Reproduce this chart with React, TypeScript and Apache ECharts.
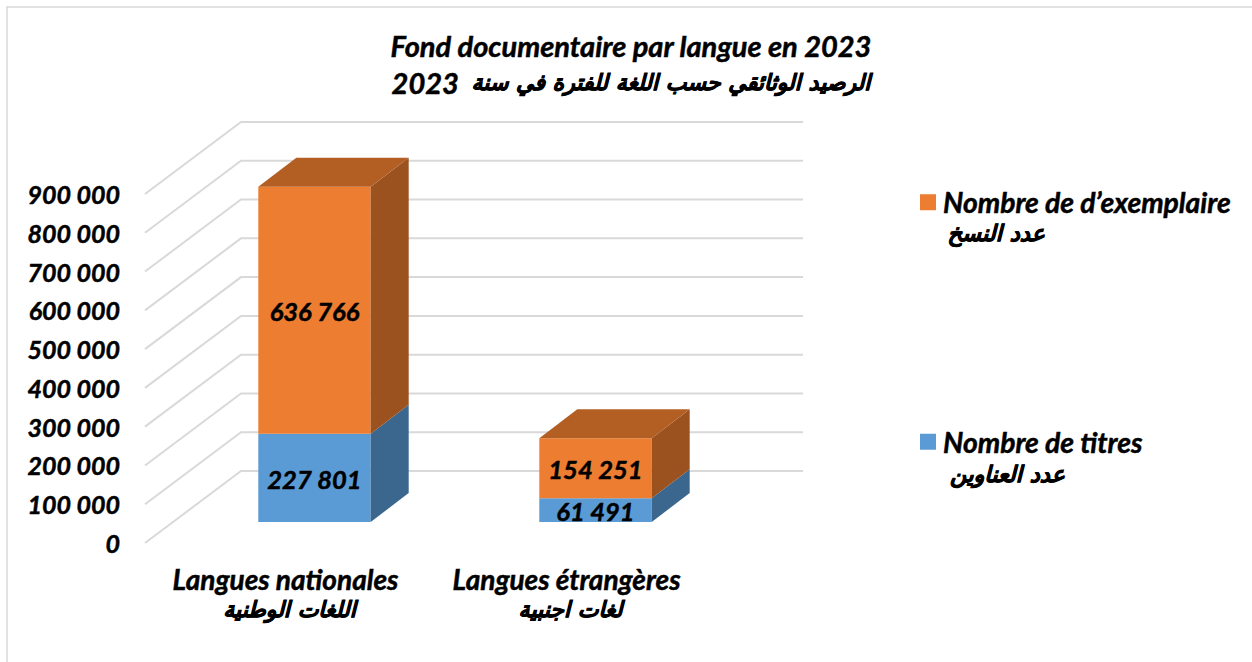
import React, { useEffect, useRef } from "react";
import * as echarts from "echarts";

const categories = ["Langues nationales", "Langues étrangères"];
const categoriesAr = ["اللغات الوطنية", "لغات اجنبية"];
const titres = [227801, 61491];
const exemplaires = [636766, 154251];
const tickValues = [0, 100000, 200000, 300000, 400000, 500000, 600000, 700000, 800000, 900000];
const titleFr = "Fond documentaire par langue en 2023";
const titleArText = "الرصيد الوثائقي حسب اللغة للفترة في سنة";
const titleYear = "2023";
const nameTitres = "Nombre de titres";
const nameExemplaires = "Nombre de d’exemplaire";
const nameTitresAr = "عدد العناوين";
const nameExemplairesAr = "عدد النسخ";

const LATIN = "Lato, 'Noto Sans', sans-serif";
const ARABIC = "'DejaVu Sans', sans-serif";
const WALL = { dx: 96, dy: -72, right: 803 };
const OFFSET = { dx: 29, dy: -21 };
const DEPTH = { dx: 38, dy: -29 };
const heavy = { textBorderColor: "#000", textBorderWidth: 0.5 };
const heavyAr = { textBorderColor: "#000", textBorderWidth: 0.7 };
const latinStyle = { fontFamily: LATIN, fontStyle: "italic", fontWeight: "bold", color: "#000" };
const arabicStyle = { fontFamily: ARABIC, fontStyle: "italic", fontWeight: "bold", color: "#000" };

const fmt = (v: number) => String(v).replace(/\B(?=(\d{3})+$)/g, " ");

function barSeries(name: string, starts: number[], values: number[], front: string, side: string, top: string | null) {
  return {
    type: "custom",
    name,
    itemStyle: { color: front },
    data: values.map((v, i) => [i, starts[i], starts[i] + v, v]),
    encode: { x: 0, y: [1, 2] },
    z: 5,
    renderItem: (_p: any, api: any) => {
      const i = api.value(0);
      const a = api.coord([i, api.value(1)]);
      const b = api.coord([i, api.value(2)]);
      const w = api.size([1, 0])[0] * 0.4;
      const x0 = a[0] - w / 2 + OFFSET.dx;
      const x1 = x0 + w;
      const y0 = a[1] + OFFSET.dy;
      const y1 = b[1] + OFFSET.dy;
      const children: any[] = [
        { type: "rect", shape: { x: x0, y: y1, width: w, height: y0 - y1 }, style: { fill: front } },
        {
          type: "polygon",
          shape: { points: [[x1, y0], [x1 + DEPTH.dx, y0 + DEPTH.dy], [x1 + DEPTH.dx, y1 + DEPTH.dy], [x1, y1]] },
          style: { fill: side },
        },
      ];
      if (top) {
        children.push({
          type: "polygon",
          shape: { points: [[x0, y1], [x0 + DEPTH.dx, y1 + DEPTH.dy], [x1 + DEPTH.dx, y1 + DEPTH.dy], [x1, y1]] },
          style: { fill: top },
        });
      }
      children.push({
        type: "text",
        style: {
          x: (x0 + x1) / 2,
          y: (y0 + y1) / 2 + 1,
          text: fmt(api.value(3)),
          align: "center",
          verticalAlign: "middle",
          font: `italic bold 25.5px ${LATIN}`,
          fill: "#000",
          stroke: "#000",
          lineWidth: 0.5,
        },
        z2: 10,
      });
      return { type: "group", children };
    },
  };
}

const wallSeries = {
  type: "custom",
  silent: true,
  z: 1,
  data: tickValues.map((v) => [0, v]),
  encode: { y: 1 },
  renderItem: (_p: any, api: any) => {
    const p = api.coord([0, api.value(1)]);
    const left = api.coord([0, 0])[0] - api.size([1, 0])[0] / 2;
    return {
      type: "polyline",
      shape: { points: [[left, p[1]], [left + WALL.dx, p[1] + WALL.dy], [WALL.right, p[1] + WALL.dy]] },
      style: { stroke: "#D9D9D9", lineWidth: 2, fill: "none" },
    };
  },
};

export default function App() {
  const ref = useRef<HTMLDivElement>(null);
  useEffect(() => {
    document.body.style.margin = "0";
    const chart = echarts.init(ref.current!, null, { renderer: "svg" });
    const zero = categories.map(() => 0);
    chart.setOption({
      animation: false,
      backgroundColor: "#fff",
      title: [
        {
          text: titleFr,
          left: 626,
          top: 26,
          textAlign: "center",
          textStyle: { ...latinStyle, fontSize: 29, ...heavy },
        },
        {
          text: `{n|${titleYear}}{gap|  }{ar|${titleArText}}`,
          left: 626,
          top: 63,
          textAlign: "center",
          textStyle: {
            ...arabicStyle,
            fontSize: 22,
            rich: {
              n: { ...latinStyle, fontSize: 29, ...heavy },
              gap: { ...latinStyle, fontSize: 29 },
              ar: { ...arabicStyle, fontSize: 22, ...heavyAr },
            },
          },
        },
      ],
      grid: { left: 145, right: 545, top: 194, bottom: 119, containLabel: false },
      xAxis: {
        type: "category",
        data: categories.map((c, i) => `${c}\n${categoriesAr[i]}`),
        axisLine: { show: false },
        axisTick: { show: false },
        axisLabel: {
          margin: 20,
          lineHeight: 32,
          formatter: (v: string) => {
            const [fr, ar] = v.split("\n");
            return `{fr|${fr}}\n{ar|${ar}}`;
          },
          rich: {
            fr: { ...latinStyle, fontSize: 28, lineHeight: 31, ...heavy },
            ar: { ...arabicStyle, fontSize: 22, lineHeight: 31, padding: [0, 0, 0, 8], ...heavyAr },
          },
        },
      },
      yAxis: {
        type: "value",
        min: 0,
        max: 900000,
        interval: 100000,
        axisLine: { show: false },
        axisTick: { show: false },
        splitLine: { show: false },
        axisLabel: {
          margin: 25,
          formatter: (v: number) => fmt(v),
          ...latinStyle,
          fontSize: 25,
          ...heavy,
        },
      },
      legend: {
        orient: "vertical",
        left: 915,
        top: 183,
        icon: "rect",
        itemWidth: 16,
        itemHeight: 16,
        itemGap: 211,
        data: [nameExemplaires, nameTitres],
        selectedMode: false,
        textStyle: { ...latinStyle, fontSize: 28.3, padding: [0, 0, 0, 2], ...heavy },
      },
      graphic: [
        { type: "rect", silent: true, shape: { x: 7, y: 7, width: 1300, height: 700 }, style: { fill: "none", stroke: "#D9D9D9", lineWidth: 1.5 } },
        { type: "text", style: { x: 1045, y: 233, text: nameExemplairesAr, align: "right", verticalAlign: "middle", font: `italic bold 22.5px ${ARABIC}`, fill: "#000", stroke: "#000", lineWidth: 0.7 } },
        { type: "text", style: { x: 1065, y: 474, text: nameTitresAr, align: "right", verticalAlign: "middle", font: `italic bold 22.5px ${ARABIC}`, fill: "#000", stroke: "#000", lineWidth: 0.7 } },
      ],
      series: [
        wallSeries,
        barSeries(nameTitres, zero, titres, "#5B9BD5", "#3B668E", null),
        barSeries(nameExemplaires, titres, exemplaires, "#ED7D31", "#9C521E", "#B35F24"),
      ],
    });
    return () => chart.dispose();
  }, []);
  return <div ref={ref} style={{ width: 1252, height: 662 }} />;
}
